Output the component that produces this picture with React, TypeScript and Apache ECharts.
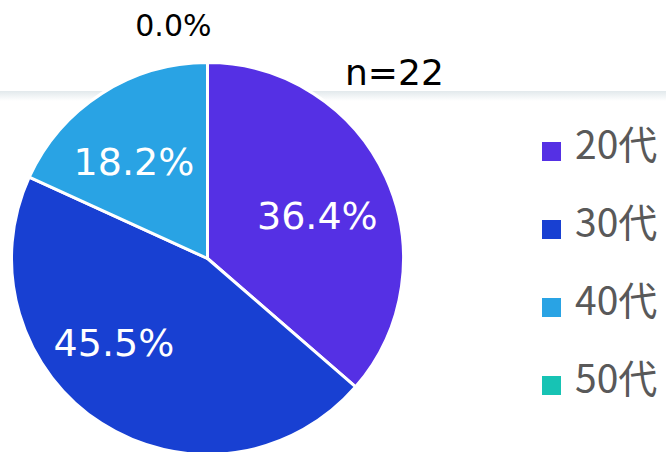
import React, { useEffect, useRef } from "react";
import * as echarts from "echarts";

const categories = ["20代", "30代", "40代", "50代"];
const counts = [8, 10, 4, 0];
const sliceColors = ["#5530E4", "#1840D2", "#29A3E4", "#17C3B4"];
const sampleSize = "n=22";

// label nudges (layout only)
const labelOffsets: [number, number][] = [
  [18, -1],
  [-39, 0],
  [-19, -12],
  [39, -22],
];

const legendIcon = "path://M0,0 M29,0 M0,20 L21,20 L21,41 L0,41 Z";

export default function App() {
  const ref = useRef<HTMLDivElement>(null);
  useEffect(() => {
    document.body.style.margin = "0";
    if (!ref.current) return;
    const chart = echarts.init(ref.current, null, { renderer: "svg" });
    const total = counts.reduce((a, b) => a + b, 0);
    const data = categories.map((name, i) => {
      const zero = counts[i] === 0;
      return {
        name,
        value: counts[i],
        itemStyle: { color: sliceColors[i] },
        label: zero
          ? {
              position: "outside",
              color: "#000",
              fontSize: 30,
              offset: labelOffsets[i],
            }
          : { position: "inside", offset: labelOffsets[i] },
        labelLine: { show: false },
      };
    });
    chart.setOption({
      animation: false,
      backgroundColor: "#fff",
      graphic: [
        {
          type: "rect",
          z: -10,
          shape: { x: 0, y: 91, width: 666, height: 10 },
          style: {
            fill: new echarts.graphic.LinearGradient(0, 0, 0, 1, [
              { offset: 0, color: "#e2e9ec" },
              { offset: 1, color: "#ffffff" },
            ]),
          },
        },
        {
          type: "text",
          x: 345,
          y: 72,
          style: {
            text: sampleSize,
            fontSize: 36,
            fontFamily: "DejaVu Sans",
            fill: "#000",
            textVerticalAlign: "middle",
          },
        },
      ],
      legend: {
        orient: "vertical",
        left: 540,
        top: 120,
        padding: 0,
        icon: legendIcon,
        itemWidth: 29,
        itemHeight: 41,
        itemGap: 35,
        data: categories,
        textStyle: {
          fontSize: 39,
          fontFamily: "Noto Sans CJK JP",
          color: "#595959",
          lineHeight: 40,
        },
      },
      series: [
        {
          type: "pie",
          center: [207.5, 258.5],
          radius: [0, 196],
          startAngle: 90,
          clockwise: true,
          avoidLabelOverlap: false,
          itemStyle: { borderColor: "#fff", borderWidth: 3 },
          label: {
            show: true,
            color: "#fff",
            fontSize: 38,
            fontFamily: "DejaVu Sans",
            formatter: (p: any) =>
              ((p.value / total) * 100).toFixed(1) + "%",
          },
          emphasis: { disabled: true },
          data,
        },
      ],
    });
    return () => chart.dispose();
  }, []);
  return (
    <div
      ref={ref}
      style={{ position: "absolute", left: 0, top: 0, width: 666, height: 452 }}
    />
  );
}
